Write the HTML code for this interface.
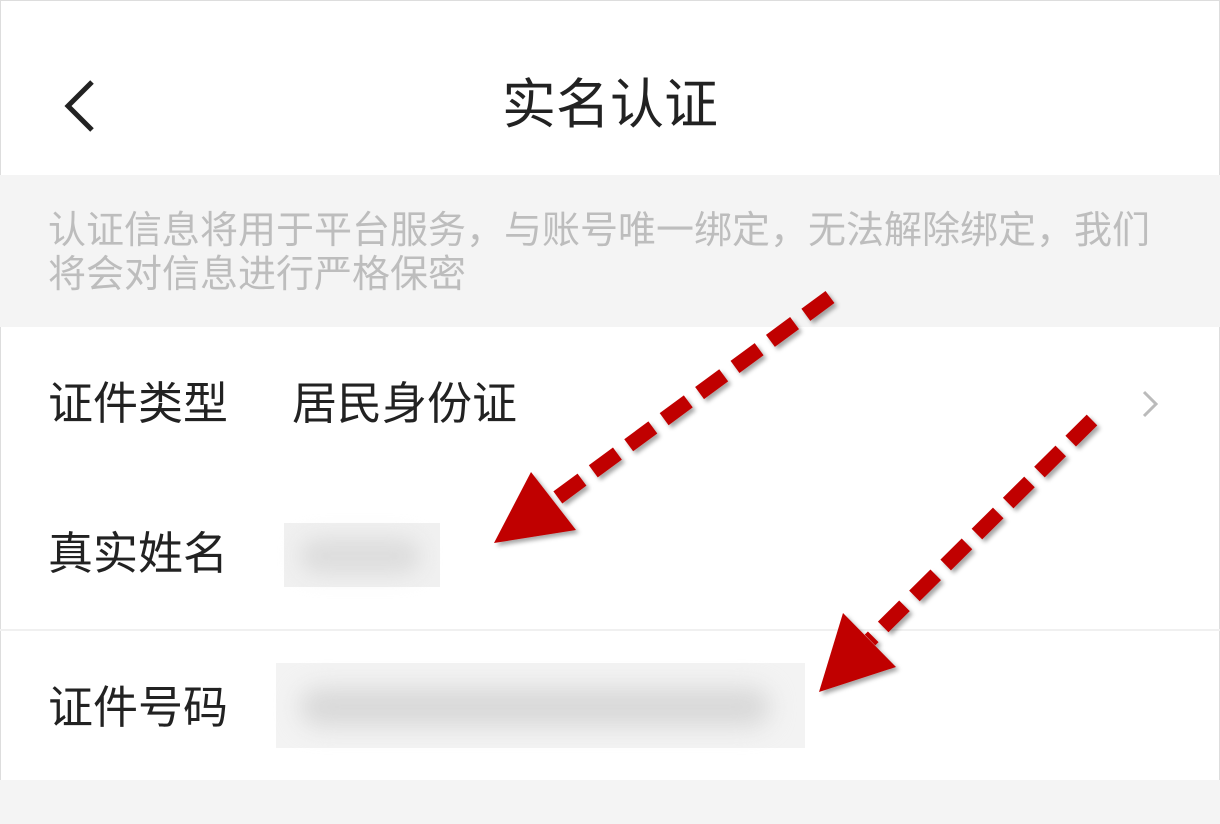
<!DOCTYPE html>
<html><head><meta charset="utf-8"><style>
body{margin:0;width:1220px;height:824px;overflow:hidden;background:#fff;font-family:"Liberation Sans","Noto Sans CJK SC",sans-serif;position:relative;}
.abs{position:absolute}
.t{color:#222;font-size:45px;line-height:1}
</style></head><body>
<div class="abs" style="left:0;top:0;width:1218px;height:822px;border:1px solid #ddd;"></div>
<svg class="abs" style="left:58px;top:78px" width="40" height="56"><polyline points="34,4 10,28 34,52" fill="none" stroke="#222" stroke-width="5"/></svg>
<div class="abs t" style="left:0;width:1220px;top:78px;text-align:center;font-size:54px;">实名认证</div>
<div class="abs" style="left:0;top:175px;width:1220px;height:152px;background:#f4f4f4"></div>
<div class="abs" style="left:48px;top:209px;color:#bdbdbd;font-size:38px;line-height:44px;width:1160px;white-space:nowrap">认证信息将用于平台服务，与账号唯一绑定，无法解除绑定，我们<br>将会对信息进行严格保密</div>
<div class="abs t" style="left:48px;top:381px">证件类型</div>
<div class="abs t" style="left:292px;top:381px">居民身份证</div>
<svg class="abs" style="left:1138px;top:388px" width="24" height="32"><polyline points="6,4 18,16 6,28" fill="none" stroke="#bbb" stroke-width="3"/></svg>
<div class="abs t" style="left:48px;top:531px">真实姓名</div>
<div class="abs" style="left:284px;top:523px;width:156px;height:64px;background:#f0f0f0"></div>
<div class="abs" style="left:300px;top:538px;width:120px;height:36px;background:#ddd;filter:blur(10px);border-radius:18px"></div>
<div class="abs" style="left:0;top:629px;width:1220px;height:2px;background:#f0f0f0"></div>
<div class="abs t" style="left:48px;top:685px">证件号码</div>
<div class="abs" style="left:276px;top:663px;width:529px;height:85px;background:#f3f3f3"></div>
<div class="abs" style="left:300px;top:688px;width:470px;height:38px;background:#d8d8d8;filter:blur(12px);border-radius:19px"></div>
<div class="abs" style="left:0;top:780px;width:1220px;height:44px;background:#f4f4f4"></div>
<svg class="abs" style="left:0;top:0" width="1220" height="824">
<defs><filter id="s"><feDropShadow dx="3" dy="3" stdDeviation="2" flood-color="#000" flood-opacity="0.35"/></filter></defs>
<g filter="url(#s)" fill="#c00000" stroke="#c00000">
<line x1="830" y1="297" x2="553" y2="501" stroke-width="15" stroke-dasharray="30 14" fill="none"/>
<polygon points="531,472 576,530 494,543" stroke="none"/>
<line x1="1092" y1="420" x2="870" y2="640" stroke-width="15" stroke-dasharray="30 14" fill="none"/>
<polygon points="843,613 896,667 819,692" stroke="none"/>
</g></svg>
</body></html>
